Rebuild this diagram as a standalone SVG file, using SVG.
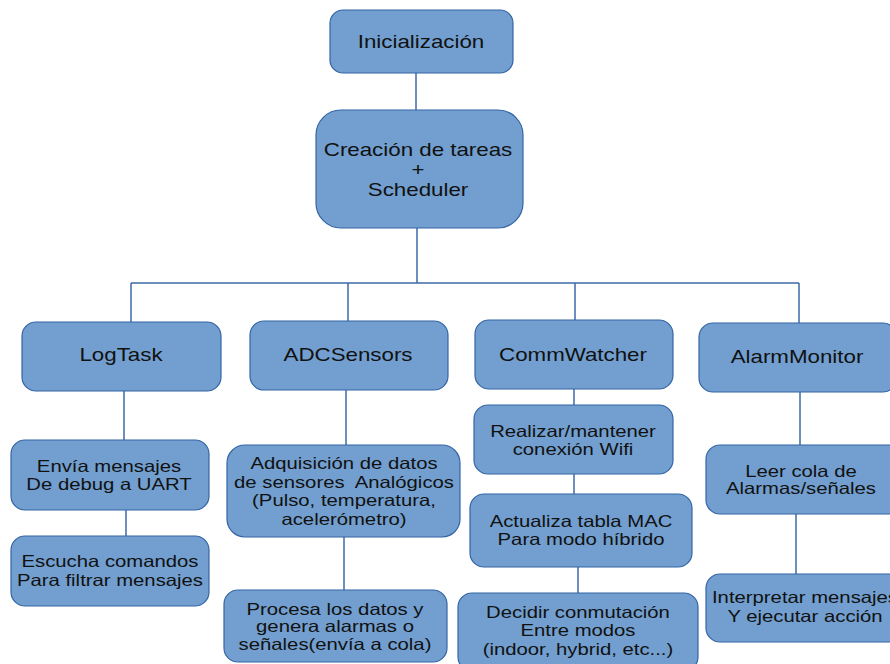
<svg xmlns="http://www.w3.org/2000/svg" width="890" height="664" viewBox="0 0 890 664">
<style>
.box{fill:#729fcf;stroke:#3465a4;stroke-width:1.2}
.big{font-family:"Liberation Sans",Arial,sans-serif;font-size:18.6px;fill:#111;text-anchor:middle}
.sm{font-family:"Liberation Sans",Arial,sans-serif;font-size:16.5px;fill:#111;text-anchor:middle}
.con{fill:none;stroke:#3c6aa8;stroke-width:1.5}
</style>
<rect width="890" height="664" fill="#fff"/>
<g id="connectors">
<path class="con" d="M416 73V110"/>
<path class="con" d="M417 228V283"/>
<path class="con" d="M131 283H799"/>
<path class="con" d="M131 283V322"/>
<path class="con" d="M348 283V321"/>
<path class="con" d="M575 283V320"/>
<path class="con" d="M799 283V323"/>
<path class="con" d="M124 391V440"/>
<path class="con" d="M126 510V536"/>
<path class="con" d="M346 390V445"/>
<path class="con" d="M344 537V590"/>
<path class="con" d="M574 389V405"/>
<path class="con" d="M574 474V494"/>
<path class="con" d="M578 567V593"/>
<path class="con" d="M800 392V445"/>
<path class="con" d="M796 514V574"/>
</g>
<g id="inicializacion">
<rect class="box" x="330" y="10" width="183" height="63" rx="13"/>
<text class="big" transform="translate(421 48) scale(1.2 1)">Inicialización</text>
</g>
<g id="creacion">
<rect class="box" x="316" y="110" width="207" height="118" rx="25"/>
<text class="big" transform="translate(418 156) scale(1.2 1)"><tspan x="0">Creación de tareas</tspan><tspan x="0" dy="20">+</tspan><tspan x="0" dy="20">Scheduler</tspan></text>
</g>
<g id="logtask">
<rect class="box" x="22" y="322" width="199" height="69" rx="14"/>
<text class="big" transform="translate(121 361) scale(1.2 1)">LogTask</text>
</g>
<g id="adcsensors">
<rect class="box" x="250" y="321" width="198" height="69" rx="14"/>
<text class="big" transform="translate(348 361) scale(1.2 1)">ADCSensors</text>
</g>
<g id="commwatcher">
<rect class="box" x="475" y="320" width="198" height="69" rx="14"/>
<text class="big" transform="translate(573 361) scale(1.2 1)">CommWatcher</text>
</g>
<g id="alarmmonitor">
<rect class="box" x="699" y="323" width="198" height="69" rx="14"/>
<text class="big" transform="translate(797 363) scale(1.2 1)">AlarmMonitor</text>
</g>
<g id="envia">
<rect class="box" x="11" y="440" width="198" height="70" rx="14"/>
<text class="sm" transform="translate(109 472) scale(1.23 1)"><tspan x="0">Envía mensajes</tspan><tspan x="0" dy="18">De debug a UART</tspan></text>
</g>
<g id="escucha">
<rect class="box" x="11" y="536" width="198" height="70" rx="14"/>
<text class="sm" transform="translate(110 567) scale(1.23 1)"><tspan x="0">Escucha comandos</tspan><tspan x="0" dy="19">Para filtrar mensajes</tspan></text>
</g>
<g id="adquisicion">
<rect class="box" x="227" y="445" width="233" height="92" rx="18"/>
<text class="sm" transform="translate(344 469) scale(1.23 1)"><tspan x="0">Adquisición de datos</tspan><tspan x="0" dy="18.7">de sensores&#160; Analógicos</tspan><tspan x="0" dy="18.7">(Pulso, temperatura,</tspan><tspan x="0" dy="18.7">acelerómetro)</tspan></text>
</g>
<g id="procesa">
<rect class="box" x="224" y="590" width="223" height="72" rx="14"/>
<text class="sm" transform="translate(335 615) scale(1.23 1)"><tspan x="0">Procesa los datos y</tspan><tspan x="0" dy="17.5">genera alarmas o</tspan><tspan x="0" dy="17.5">señales(envía a cola)</tspan></text>
</g>
<g id="realizar">
<rect class="box" x="474" y="405" width="199" height="69" rx="14"/>
<text class="sm" transform="translate(573 437) scale(1.23 1)"><tspan x="0">Realizar/mantener</tspan><tspan x="0" dy="18">conexión Wifi</tspan></text>
</g>
<g id="actualiza">
<rect class="box" x="470" y="494" width="222" height="73" rx="14"/>
<text class="sm" transform="translate(581 527) scale(1.23 1)"><tspan x="0">Actualiza tabla MAC</tspan><tspan x="0" dy="18">Para modo híbrido</tspan></text>
</g>
<g id="decidir">
<rect class="box" x="458" y="593" width="240" height="78" rx="14"/>
<text class="sm" transform="translate(578 618) scale(1.23 1)"><tspan x="0">Decidir conmutación</tspan><tspan x="0" dy="18.5">Entre modos</tspan><tspan x="0" dy="18.5">(indoor, hybrid, etc...)</tspan></text>
</g>
<g id="leer">
<rect class="box" x="706" y="445" width="198" height="69" rx="14"/>
<text class="sm" transform="translate(801 477) scale(1.23 1)"><tspan x="0">Leer cola de</tspan><tspan x="0" dy="17.5">Alarmas/señales</tspan></text>
</g>
<g id="interpretar">
<rect class="box" x="706" y="574" width="198" height="68" rx="14"/>
<text class="sm" transform="translate(805 603) scale(1.23 1)"><tspan x="0">Interpretar mensajes</tspan><tspan x="0" dy="19">Y ejecutar acción</tspan></text>
</g>
</svg>
